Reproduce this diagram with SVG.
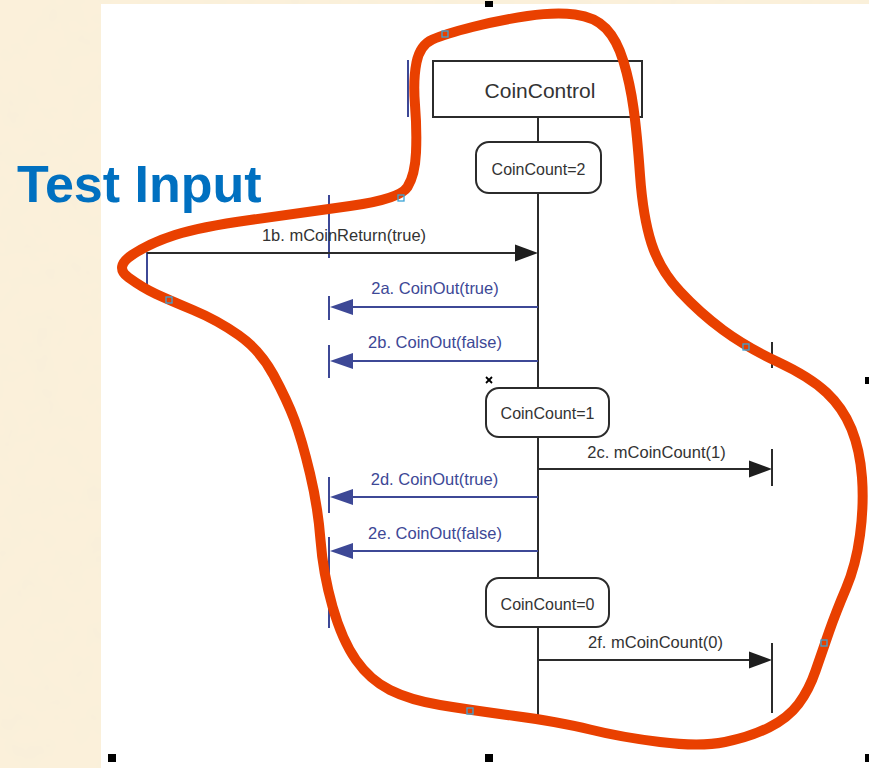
<svg xmlns="http://www.w3.org/2000/svg" width="869" height="768" viewBox="0 0 869 768">
  <defs>
    <filter id="paper" x="0" y="0" width="100%" height="100%">
      <feTurbulence type="fractalNoise" baseFrequency="0.035" numOctaves="3" seed="4"/>
      <feColorMatrix type="matrix" values="0 0 0 0 0.93  0 0 0 0 0.86  0 0 0 0 0.70  0 0 0 1.2 -0.5"/>
    </filter>
    <style>
      .lbl { font-family: "Liberation Sans", Arial, sans-serif; font-size: 16.5px; text-anchor: middle; }
      .blk { fill: #333333; }
      .blu { fill: #3d4896; }
      .state { font-family: "Liberation Sans", Arial, sans-serif; font-size: 16px; text-anchor: middle; fill: #333333; }
      .box { fill: #ffffff; stroke: #2b2b2b; stroke-width: 2; }
      .life { stroke: #2b2b2b; stroke-width: 2; fill: none; }
      .msg { stroke: #2b2b2b; stroke-width: 2; fill: none; }
      .msgb { stroke: #3d4896; stroke-width: 2; fill: none; }
      .headk { fill: #1e1e1e; }
      .headb { fill: #3d4896; }
      .handle { fill: #000000; }
      .pt { fill: none; stroke: #3aa3d6; stroke-width: 1.3; }
    </style>
  </defs>

  <!-- parchment backdrop and white drawing sheet -->
  <rect x="0" y="0" width="869" height="768" fill="#fbf0da"/>
  <rect x="0" y="0" width="869" height="768" filter="url(#paper)"/>
  <rect x="101" y="4" width="768" height="764" fill="#ffffff"/>

  <!-- title -->
  <text x="17" y="202" font-family="'Liberation Sans', Arial, sans-serif" font-weight="bold" font-size="52" fill="#0070c0">Test Input</text>

  <!-- lifelines -->
  <g id="lifelines">
    <line class="life" x1="538" y1="117" x2="538" y2="716"/>
    <line class="msgb" x1="147" y1="252" x2="147" y2="290"/>
    <line class="msgb" x1="329" y1="195" x2="329" y2="258"/>
    <line class="msgb" x1="408" y1="60" x2="408" y2="117"/>
    <line class="msg" x1="772" y1="342" x2="772" y2="368"/>
  </g>

  <!-- object header -->
  <g id="coin-control">
    <rect x="433" y="61" width="209" height="56" fill="#ffffff" stroke="#2b2b2b" stroke-width="2"/>
    <text x="540" y="98" font-family="'Liberation Sans', Arial, sans-serif" font-size="21" text-anchor="middle" fill="#333333">CoinControl</text>
  </g>

  <!-- state invariants -->
  <g id="state-2">
    <rect class="box" x="476" y="142" width="125" height="51" rx="13"/>
    <text class="state" x="538.5" y="175">CoinCount=2</text>
  </g>
  <g id="state-1">
    <rect class="box" x="486" y="388" width="123" height="49" rx="13"/>
    <text class="state" x="547.5" y="419">CoinCount=1</text>
  </g>
  <g id="state-0">
    <rect class="box" x="486" y="578" width="123" height="49" rx="13"/>
    <text class="state" x="547.5" y="610">CoinCount=0</text>
  </g>

  <!-- messages -->
  <g id="connectors">
    <!-- 1b -->
    <line class="msg" x1="147" y1="253" x2="518" y2="253"/>
    <polygon class="headk" points="538,253 515,244.5 515,261.5"/>
    <text class="lbl blk" x="344" y="241">1b. mCoinReturn(true)</text>

    <!-- 2a -->
    <line class="msgb" x1="538" y1="307" x2="350" y2="307"/>
    <polygon class="headb" points="330,307 353,299 353,315"/>
    <line class="msgb" x1="329" y1="296" x2="329" y2="320"/>
    <text class="lbl blu" x="435" y="294">2a. CoinOut(true)</text>

    <!-- 2b -->
    <line class="msgb" x1="538" y1="361" x2="350" y2="361"/>
    <polygon class="headb" points="330,361 353,353 353,369"/>
    <line class="msgb" x1="329" y1="345" x2="329" y2="378"/>
    <text class="lbl blu" x="435" y="348">2b. CoinOut(false)</text>

    <!-- 2c -->
    <line class="msg" x1="538" y1="469" x2="752" y2="469"/>
    <polygon class="headk" points="772,469 749,460.5 749,477.5"/>
    <line class="msg" x1="772" y1="449" x2="772" y2="486"/>
    <text class="lbl blk" x="656.5" y="458">2c. mCoinCount(1)</text>

    <!-- 2d -->
    <line class="msgb" x1="538" y1="497" x2="350" y2="497"/>
    <polygon class="headb" points="330,497 353,489 353,505"/>
    <line class="msgb" x1="329" y1="477" x2="329" y2="513"/>
    <text class="lbl blu" x="434.5" y="485">2d. CoinOut(true)</text>

    <!-- 2e -->
    <line class="msgb" x1="538" y1="551" x2="350" y2="551"/>
    <polygon class="headb" points="330,551 353,543 353,559"/>
    <line class="msgb" x1="329" y1="537" x2="329" y2="628"/>
    <text class="lbl blu" x="435" y="539">2e. CoinOut(false)</text>

    <!-- 2f -->
    <line class="msg" x1="538" y1="660" x2="752" y2="660"/>
    <polygon class="headk" points="772,660 749,651.5 749,668.5"/>
    <line class="msg" x1="772" y1="643" x2="772" y2="713"/>
    <text class="lbl blk" x="655.5" y="648">2f. mCoinCount(0)</text>
  </g>

  <!-- small cross mark -->
  <g id="cross" stroke="#000000" stroke-width="1.8">
    <line x1="486" y1="377" x2="492" y2="383"/>
    <line x1="492" y1="377" x2="486" y2="383"/>
  </g>

  <!-- selection handles of the sheet -->
  <g id="sheet-handles">
    <rect class="handle" x="485" y="1" width="8" height="6"/>
    <rect class="handle" x="108" y="754" width="8" height="8"/>
    <rect class="handle" x="485" y="754" width="8" height="8"/>
    <rect class="handle" x="865" y="754" width="8" height="8"/>
    <rect class="handle" x="865" y="377" width="8" height="7"/>
  </g>

  <!-- freehand outline -->
  <g id="outline">
    <path fill="none" stroke="#e94000" stroke-width="10" stroke-linejoin="round" stroke-linecap="round"
      d="M 132,255 Q 150,243 175,235 Q 200,227 250,220 Q 300,213 350,206 Q 400,199 407.5,187 Q 415,175 416,152.5 Q 417,130 415,105 Q 413,80 416.5,62.5 Q 420,45 432.5,39.5 Q 445,34 472.5,27 Q 500,20 527.5,16 Q 555,12 575,14.5 Q 595,17 606,28.5 Q 617,40 623.5,61.5 Q 630,83 633.5,108 Q 637,133 640,175 Q 643,217 651.5,243.5 Q 660,270 680,291.5 Q 700,313 723,330 Q 746,347 778,362 Q 810,377 826.5,392.5 Q 843,408 851.5,429 Q 860,450 862,477.5 Q 864,505 860,535 Q 856,565 846,588.5 Q 836,612 829,632 Q 822,652 815.5,671 Q 809,690 798.5,704 Q 788,718 769,727.5 Q 750,737 725,742 Q 700,747 660,742 Q 620,737 590,729.5 Q 560,722 515,716 Q 470,710 440,705 Q 410,700 390,690 Q 370,680 356,660 Q 342,640 332.5,606.5 Q 323,573 320.5,540 Q 318,507 310,473.5 Q 302,440 294.5,420 Q 287,400 273.5,375 Q 260,350 238.5,335 Q 217,320 193,310 Q 169,300 156,294 Q 143,288 128.5,277.5 Q 114,267 132,255 Z"/>
    <!-- edit points on the outline -->
    <rect class="pt" x="442" y="31" width="6" height="6"/>
    <rect class="pt" x="398" y="195" width="6" height="6"/>
    <rect class="pt" x="166" y="297" width="6" height="6"/>
    <rect class="pt" x="743" y="344" width="6" height="6"/>
    <rect class="pt" x="821" y="640" width="6" height="6"/>
    <rect class="pt" x="467" y="708" width="6" height="6"/>
  </g>
</svg>
